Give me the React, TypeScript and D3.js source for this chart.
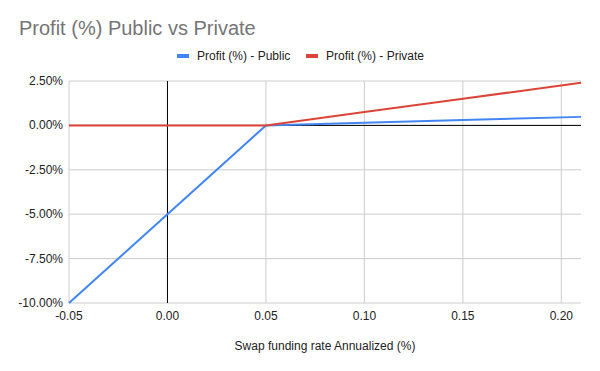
import React from "react";
import * as d3 from "d3";

const xValues = [-0.05, 0, 0.05, 0.1, 0.15, 0.21];
const publicProfit = [-10, -5, 0, 0.15, 0.3, 0.48];
const privateProfit = [0, 0, 0, 0.75, 1.5, 2.4];
const xTicks = [-0.05, 0, 0.05, 0.1, 0.15, 0.2];
const yTicks = [2.5, 0, -2.5, -5, -7.5, -10];
const seriesNames = ["Profit (%) - Public", "Profit (%) - Private"];
const colors = ["#4285F4", "#DB4437"];

export default function App() {
  const W = 600, H = 371;
  const left = 69, right = 581, top = 81, bottom = 303;
  const x = d3.scaleLinear().domain([-0.05, 0.21]).range([left, right]);
  const y = d3.scaleLinear().domain([-10, 2.5]).range([bottom, top]);
  const line = d3.line<[number, number]>().x(d => x(d[0])).y(d => y(d[1]));
  const series = [publicProfit, privateProfit];
  const font = "'Liberation Sans', Arial, sans-serif";
  return (
    <svg width={W} height={H} style={{ position: "absolute", left: 0, top: 0, fontFamily: font }}>
      <rect width={W} height={H} fill="#fff" />
      <text x={19} y={35} fontSize={20} fill="#757575">Profit (%) Public vs Private</text>
      {/* legend */}
      <g fontSize={12} fill="#222">
        <rect x={177} y={54} width={12} height={4} fill={colors[0]} />
        <text x={197} y={60}>{seriesNames[0]}</text>
        <rect x={306} y={54} width={12} height={4} fill={colors[1]} />
        <text x={326} y={60}>{seriesNames[1]}</text>
      </g>
      {/* grid */}
      {yTicks.map(t => (
        <line key={"gy" + t} x1={left} x2={right} y1={y(t)} y2={y(t)} stroke="#ccc" strokeWidth={1} />
      ))}
      {xTicks.map(t => (
        <line key={"gx" + t} x1={x(t)} x2={x(t)} y1={top} y2={bottom} stroke="#ccc" strokeWidth={1} />
      ))}
      <line x1={x(0)} x2={x(0)} y1={top} y2={bottom} stroke="#000" strokeWidth={1} />
      <line x1={left} x2={right} y1={y(0)} y2={y(0)} stroke="#000" strokeWidth={1} />
      {/* y labels */}
      {yTicks.map(t => (
        <text key={"ly" + t} x={63} y={y(t) + 4} fontSize={12} textAnchor="end" fill="#222">
          {t.toFixed(2) + "%"}
        </text>
      ))}
      {xTicks.map(t => (
        <text key={"lx" + t} x={x(t)} y={320} fontSize={12} textAnchor="middle" fill="#222">
          {t.toFixed(2)}
        </text>
      ))}
      <text x={325} y={350} fontSize={12} textAnchor="middle" fill="#222">Swap funding rate Annualized (%)</text>
      {series.map((s, i) => (
        <path key={i} d={line(xValues.map((xv, j) => [xv, s[j]]) as [number, number][]) || ""}
          fill="none" stroke={colors[i]} strokeWidth={2} />
      ))}
    </svg>
  );
}
